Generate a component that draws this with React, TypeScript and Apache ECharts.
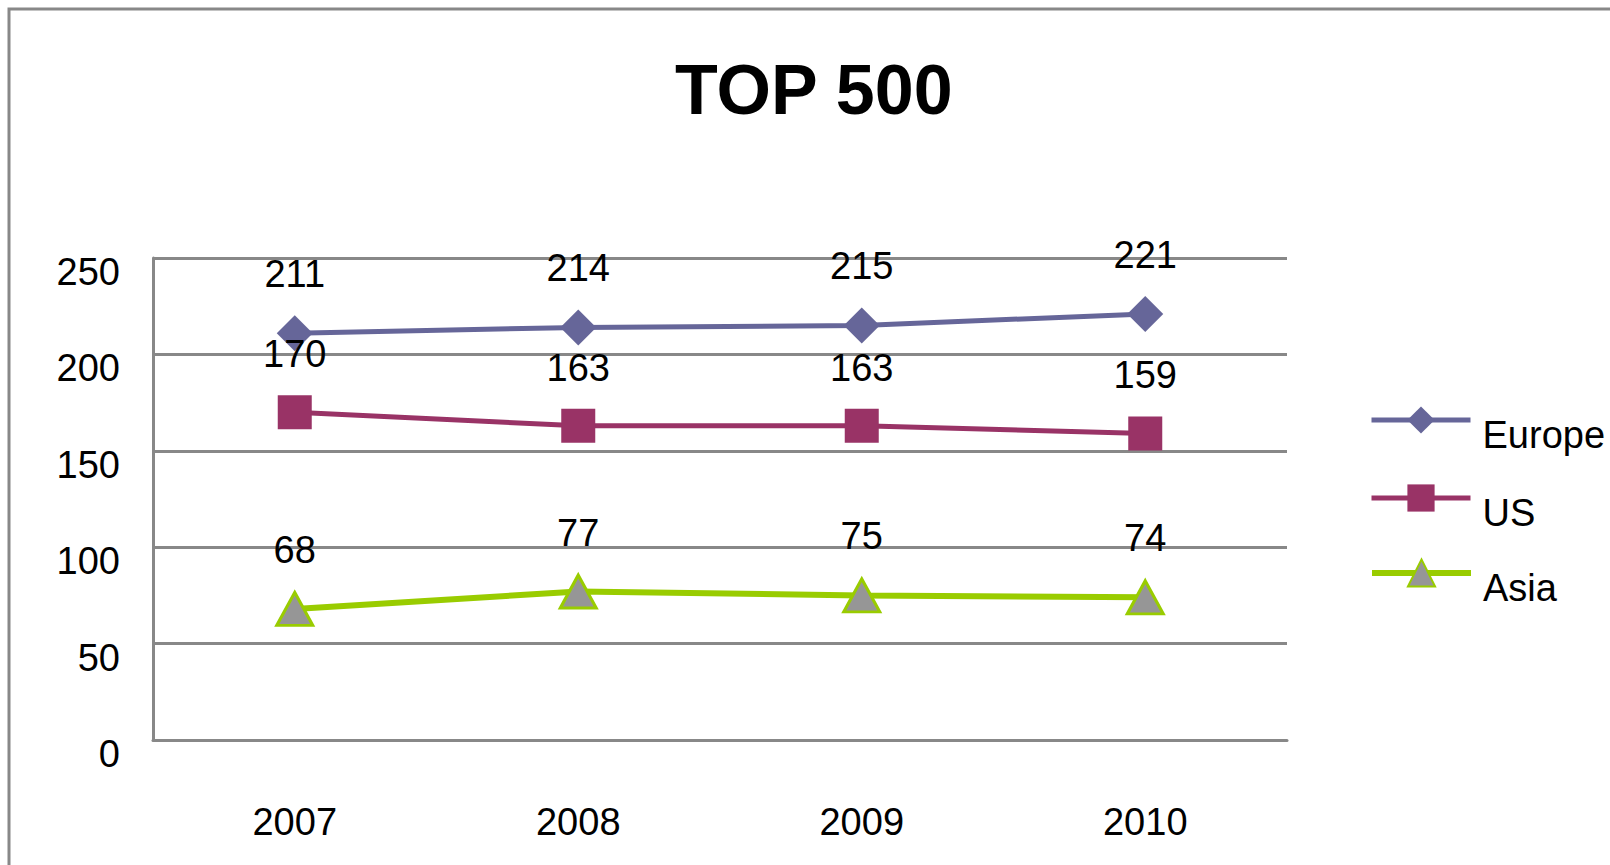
import React, { useEffect, useRef } from "react";
import * as echarts from "echarts";

const years = ["2007", "2008", "2009", "2010"];
const europe = [211, 214, 215, 221];
const us = [170, 163, 163, 159];
const asia = [68, 77, 75, 74];
const seriesNames = ["Europe", "US", "Asia"];
const titleText = "TOP 500";

const FONT = "'Liberation Sans', Arial, sans-serif";
const COLORS = ["#666699", "#993366", "#99CC00"];
const LINE_W = [5, 5, 6];
const LEGEND_TOPS = [386, 464, 539];

export default function App() {
  const ref = useRef<HTMLDivElement>(null);
  useEffect(() => {
    document.body.style.margin = "0";
    document.body.style.overflow = "hidden";
    const chart = echarts.init(ref.current!, null, { renderer: "svg" });
    const label = {
      show: true,
      position: "top",
      distance: 22,
      color: "#000",
      fontSize: 38,
      fontFamily: FONT,
    };
    const legends = seriesNames.map((name, i) => ({
      orient: "vertical",
      left: 1369,
      top: LEGEND_TOPS[i],
      padding: 0,
      itemWidth: 99,
      itemHeight: 34,
      data: [{ name, lineStyle: { width: LINE_W[i], color: COLORS[i] } }],
      formatter: "{a|{name}}",
      selectedMode: false,
      textStyle: {
        fontSize: 38,
        fontFamily: FONT,
        color: "#000",
        rich: {
          a: {
            fontSize: 38,
            fontFamily: FONT,
            color: "#000",
            lineHeight: 34,
            padding: [30, 0, 0, 7],
          },
        },
      },
    }));
    chart.setOption({
      animation: false,
      backgroundColor: "#fff",
      title: {
        text: titleText,
        left: 670,
        top: 50,
        textStyle: { fontSize: 70, fontWeight: "bold", color: "#000", fontFamily: FONT },
      },
      graphic: [
        {
          type: "rect",
          shape: { x: 9, y: 9, width: 1700, height: 1000 },
          style: { fill: "none", stroke: "#888", lineWidth: 3 },
          silent: true,
        },
      ],
      legend: legends,
      grid: { left: 153, top: 258, width: 1134, height: 482 },
      xAxis: {
        type: "category",
        data: years,
        boundaryGap: true,
        axisLine: { lineStyle: { color: "#888", width: 3 } },
        axisTick: { show: false },
        axisLabel: { color: "#000", fontSize: 38, fontFamily: FONT, margin: 63 },
      },
      yAxis: {
        type: "value",
        min: 0,
        max: 250,
        interval: 50,
        axisLine: { show: true, lineStyle: { color: "#888", width: 3 } },
        axisTick: { show: false },
        splitLine: { lineStyle: { color: "#888", width: 3 } },
        axisLabel: {
          color: "#000",
          fontSize: 38,
          fontFamily: FONT,
          margin: 33,
          verticalAlign: "top",
          lineHeight: 28,
        },
      },
      series: [
        {
          name: "Europe",
          type: "line",
          data: europe,
          symbol: "diamond",
          symbolSize: 36,
          color: COLORS[0],
          lineStyle: { color: COLORS[0], width: LINE_W[0] },
          itemStyle: { color: COLORS[0] },
          label,
        },
        {
          name: "US",
          type: "line",
          data: us,
          symbol: "rect",
          symbolSize: 34,
          color: COLORS[1],
          lineStyle: { color: COLORS[1], width: LINE_W[1] },
          itemStyle: { color: COLORS[1] },
          label,
        },
        {
          name: "Asia",
          type: "line",
          data: asia,
          symbol: "triangle",
          symbolSize: [36, 33],
          color: COLORS[2],
          lineStyle: { color: COLORS[2], width: LINE_W[2] },
          itemStyle: { color: "#969696", borderColor: COLORS[2], borderWidth: 3 },
          label: { ...label, distance: 22 },
        },
      ],
    });
    return () => chart.dispose();
  }, []);
  return <div ref={ref} style={{ width: 1610, height: 865 }} />;
}
